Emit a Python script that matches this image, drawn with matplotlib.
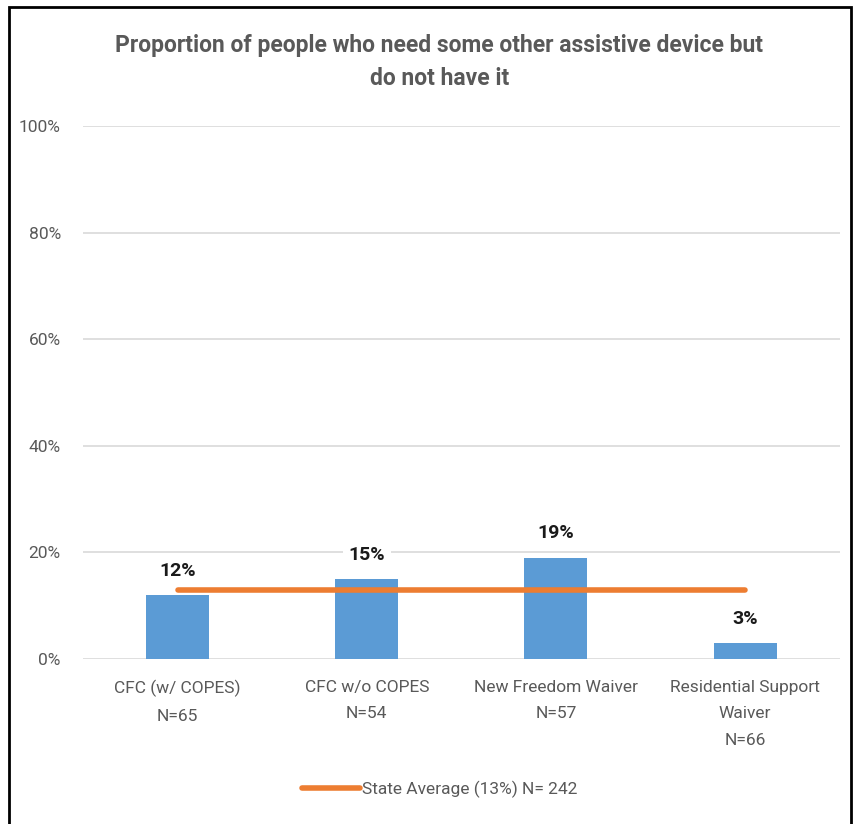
import matplotlib.pyplot as plt
from matplotlib.patches import Rectangle
from matplotlib.lines import Line2D

categorias = ['CFC (w/ COPES)\nN=65', 'CFC w/o COPES\nN=54',
              'New Freedom Waiver\nN=57', 'Residential Support\nWaiver\nN=66']
valores = [12, 15, 19, 3]
promedio = 13
ticks_y = [0, 20, 40, 60, 80, 100]

plt.rcParams['font.family'] = ['Roboto', 'DejaVu Sans']

fig = plt.figure(figsize=(8.56, 8.24), dpi=100)
ax = fig.add_axes([0.097, 0.2002, 0.884, 0.6468])

x = list(range(len(categorias)))
ax.bar(x, valores, width=0.333, color='#5B9BD5', zorder=2)
ax.plot([x[0], x[-1]], [promedio, promedio], color='#ED7D31', linewidth=4,
        solid_capstyle='round', zorder=3)

for xi, v in zip(x, valores):
    ax.annotate(f'{v}%', (xi, v), xytext=(0, 11), textcoords='offset points',
                ha='center', va='bottom', fontsize=14, fontweight='bold',
                color='#1a1a1a', zorder=4,
                bbox=dict(boxstyle='square,pad=0.3', fc='white', ec='none'))

ax.set_xlim(-0.5, 3.5)
ax.set_ylim(0, 100)
ax.set_yticks(ticks_y)
ax.set_yticklabels([f'{t}%' for t in ticks_y])
ax.set_xticks(x)
ax.set_xticklabels(categorias, linespacing=1.95)
ax.tick_params(axis='both', length=0, labelsize=12.5, labelcolor='#595959')
ax.tick_params(axis='x', pad=15)
ax.tick_params(axis='y', pad=16)
ax.grid(axis='y', color='#d9d9d9', linewidth=1.2, zorder=0)
ax.set_axisbelow(True)
for s in ax.spines.values():
    s.set_visible(False)

fig.text(0.513, 0.925, 'Proportion of people who need some other assistive device but\ndo not have it',
         ha='center', va='center', fontsize=16.5, fontweight='bold', color='#595959',
         linespacing=1.55)

handle = Line2D([], [], color='#ED7D31', linewidth=4, solid_capstyle='round')
fig.legend([handle], ['State Average (13%) N= 242'], loc='center',
           bbox_to_anchor=(0.514, 0.042), frameon=False, fontsize=12.5,
           labelcolor='#595959', handlelength=3.3, handletextpad=0.15)

fig.patches.append(Rectangle((0.0105, -0.01), 0.984, 1.002, transform=fig.transFigure,
                             fill=False, ec='black', lw=2))

fig.savefig('out.png', dpi=100)
